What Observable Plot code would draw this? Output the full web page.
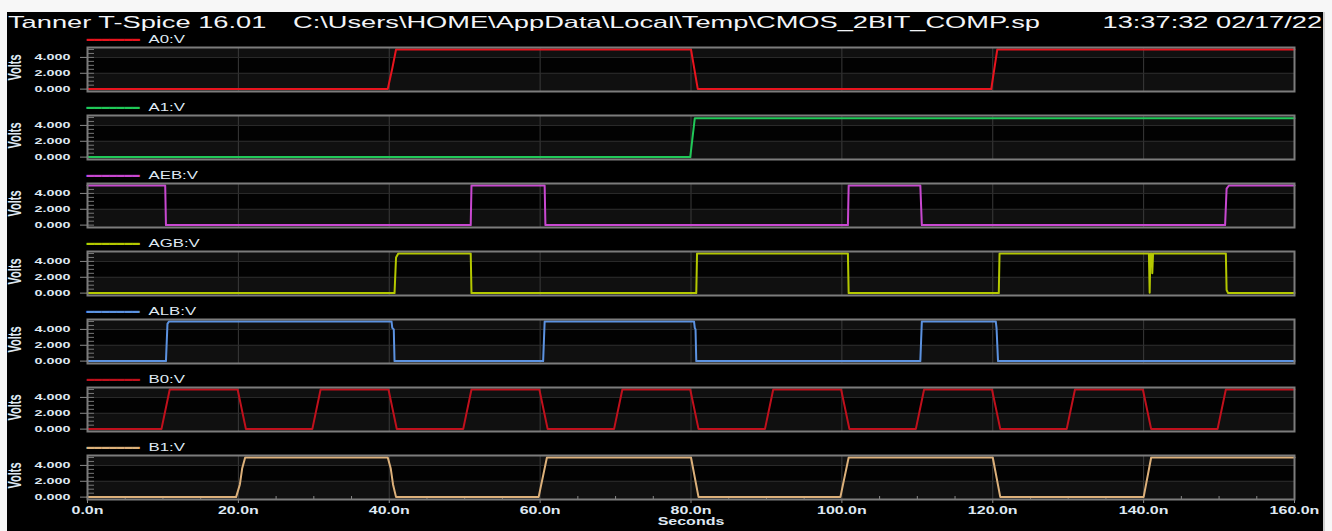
<!DOCTYPE html>
<html>
<head>
<meta charset="utf-8">
<script src="https://cdn.jsdelivr.net/npm/d3@7"></script>
<script src="https://cdn.jsdelivr.net/npm/@observablehq/plot@0.6"></script>
<style>
  html, body { margin: 0; padding: 0; background: #f7f7f7; width: 1332px; height: 531px; overflow: hidden; }
  #win { position: absolute; left: 7px; top: 12px; width: 1316px; height: 519px; background: #000; overflow: hidden; border-right: 2px solid #d0d0d0; }
  .t { position: absolute; top: 2px; font: 16.5px/1 "Liberation Sans", Arial, sans-serif; color: #f2f4f7; white-space: pre; transform: scaleX(1.65); transform-origin: left center; }
  .r { transform-origin: right center; }
  #chart { position: absolute; left: 0; top: 22px; }
</style>
</head>
<body>
<div id="win">
  <div class="t" style="left:1px">Tanner T-Spice 16.01</div>
  <div class="t" style="left:286px">C:\Users\HOME\AppData\Local\Temp\CMOS_2BIT_COMP.sp</div>
  <div class="t r" style="right:1px">13:37:32 02/17/22</div>
  <div id="chart"></div>
</div>
<script>
// ---- data (time in ns, value in volts) ----
const signals = ["A0:V", "A1:V", "AEB:V", "AGB:V", "ALB:V", "B0:V", "B1:V"];
const colors  = ["#e8141e", "#20c858", "#c848d0", "#b4c800", "#5c92e0", "#c0101c", "#dcb07a"];

const A0  = [[0,0],[39.8,0],[40.4,2.6],[40.9,5],[80.0,5],[80.9,0],[119.8,0],[120.6,5],[160,5]];
const A1  = [[0,0],[79.9,0],[80.5,4.9],[160,4.9]];
const AEB = [[0,5],[10.3,5],[10.4,0],[50.8,0],[50.9,5],[60.6,5],[60.7,0],[100.8,0],[100.9,5],[110.4,5],[110.6,0],[150.8,0],[151.0,4.6],[151.3,5],[160,5]];
const AGB = [[0,0],[40.7,0],[40.9,4.5],[41.2,5],[50.8,5],[50.9,0],[80.7,0],[80.8,5],[100.8,5],[100.9,0],[120.8,0],[120.9,5],[140.7,5],[140.8,0.05],[140.9,5],[141.1,5],[141.15,2.5],[141.25,5],[150.9,5],[151.0,0.4],[151.2,0],[160,0]];
const ALB = [[0,0],[10.4,0],[10.6,4.7],[10.8,5],[40.3,5],[40.4,4.2],[40.6,4.0],[40.7,0],[60.4,0],[60.6,5],[80.4,5],[80.5,4.2],[80.6,4.0],[80.7,0],[110.4,0],[110.6,5],[120.4,5],[120.5,4.2],[120.7,0],[160,0]];
const B0  = [[0,0],[9.8,0],[10.9,5],[19.9,5],[21.0,0],[29.8,0],[30.9,5],[39.9,5],[41.0,0],[49.8,0],[50.9,5],[59.9,5],[61.0,0],[69.8,0],[70.9,5],[79.9,5],[81.0,0],[89.8,0],[90.9,5],[99.9,5],[101.0,0],[109.8,0],[110.9,5],[119.9,5],[121.0,0],[129.8,0],[130.9,5],[139.9,5],[141.0,0],[149.8,0],[150.9,5],[160,5]];
const B1  = [[0,0],[19.7,0],[20.2,1.6],[20.5,3.6],[20.9,5],[39.8,5],[40.2,3.6],[40.5,1.6],[40.9,0],[59.8,0],[60.9,5],[80.0,5],[81.0,0],[99.8,0],[100.9,5],[120.0,5],[121.0,0],[140.0,0],[141.0,5],[160,5]];
const series = [A0, A1, AEB, AGB, ALB, B0, B1];

const xTicks      = [0, 20, 40, 60, 80, 100, 120, 140, 160];
const xMinorTicks = [5,10,15,25,30,35,45,50,55,65,70,75,85,90,95,105,110,115,125,130,135,145,150,155];
const yTicks      = [0, 2, 4];
const yMinorTicks = [0, 0.5, 1, 1.5, 2, 2.5, 3, 3.5, 4, 4.5, 5];
const yGrid       = [2, 4];
const xLabel = "Seconds";
const yLabel = "Volts";

const rows = signals.flatMap((s, i) => series[i].map(([t, v]) => ({sig: s, t, v})));

const labelColor = "#dfe8f2";
const chart = Plot.plot({
  width: 1316,
  height: 497,
  marginLeft: 80,
  marginRight: 29,
  marginTop: 10.5,
  marginBottom: 30.5,
  style: {background: "transparent", color: labelColor, fontFamily: "'Liberation Sans', Arial, sans-serif", overflow: "visible"},
  facet: {marginTop: 0, marginBottom: 0, marginLeft: 0, marginRight: 0},
  fy: {domain: signals, paddingInner: 0.36, paddingOuter: 0, axis: null, label: null},
  x: {domain: [0, 160]},
  y: {domain: [-0.3, 5.25]},
  color: {domain: signals, range: colors},
  marks: [
    Plot.frame({fill: "#101010"}),
    Plot.rect(signals, {fy: d => d, y1: yGrid[0], y2: yGrid[1], fill: "#020202"}),
    Plot.gridX({ticks: xTicks, stroke: "#3a3a3a", strokeOpacity: 1}),
    Plot.gridY({ticks: yGrid, stroke: "#2e2e2e", strokeOpacity: 1}),
    Plot.axisY({ticks: yMinorTicks, tickSize: -7, tickFormat: () => "", label: null, stroke: "#777"}),
    Plot.axisY({ticks: yTicks, tickSize: 7, tickPadding: 10, tickFormat: d => d.toFixed(3), label: null,
                stroke: "#8a8a8a", fill: labelColor, fontWeight: "bold", fontSize: 9}),
    Plot.axisX({ticks: xMinorTicks, tickSize: -3, tickFormat: () => "", label: null, stroke: "#888"}),
    Plot.axisX({ticks: xTicks, tickSize: 4, tickPadding: 3, tickFormat: d => d.toFixed(1) + "n", label: null,
                stroke: "#8a8a8a", fill: labelColor, fontWeight: "bold", fontSize: 10}),
    Plot.line(rows, {x: "t", y: "v", fy: "sig", stroke: "sig", strokeWidth: 2}),
    Plot.frame({stroke: "#7c7c7c", strokeWidth: 2}),
    Plot.text(signals, {fy: d => d, text: () => "━━━━━━━", fill: d => d, frameAnchor: "top-left", textAnchor: "start",
                        lineAnchor: "middle", dx: -1, dy: -7.5, fontFamily: "DejaVu Sans", fontSize: 12.6}),
    Plot.text(signals, {fy: d => d, text: d => d, frameAnchor: "top-left", textAnchor: "start", lineAnchor: "middle",
                        dx: 61, dy: -7.5, fontSize: 10.5, fill: labelColor}),
    Plot.text(signals, {fy: d => d, text: () => yLabel, frameAnchor: "left", textAnchor: "middle", lineAnchor: "middle",
                        rotate: -90, dx: -72, dy: -2, fontWeight: "bold", fontSize: 11, fill: labelColor}),
    Plot.text([signals[signals.length - 1]], {fy: d => d, text: () => xLabel, frameAnchor: "bottom", lineAnchor: "middle",
                        dy: 22.5, fontWeight: "bold", fontSize: 10, fill: labelColor})
  ]
});

// stretch text horizontally like the reference screenshot
const SX = 1.6;
chart.querySelectorAll("text").forEach(t => {
  if (t.textContent.includes("━")) return;
  const tr = t.getAttribute("transform") || "";
  if (tr.includes("rotate")) t.setAttribute("transform", tr.replace("rotate", `scale(${SX},1) rotate`));
  else t.setAttribute("transform", (tr + ` scale(${SX},1)`).trim());
});
document.getElementById("chart").append(chart);
</script>
</body>
</html>
